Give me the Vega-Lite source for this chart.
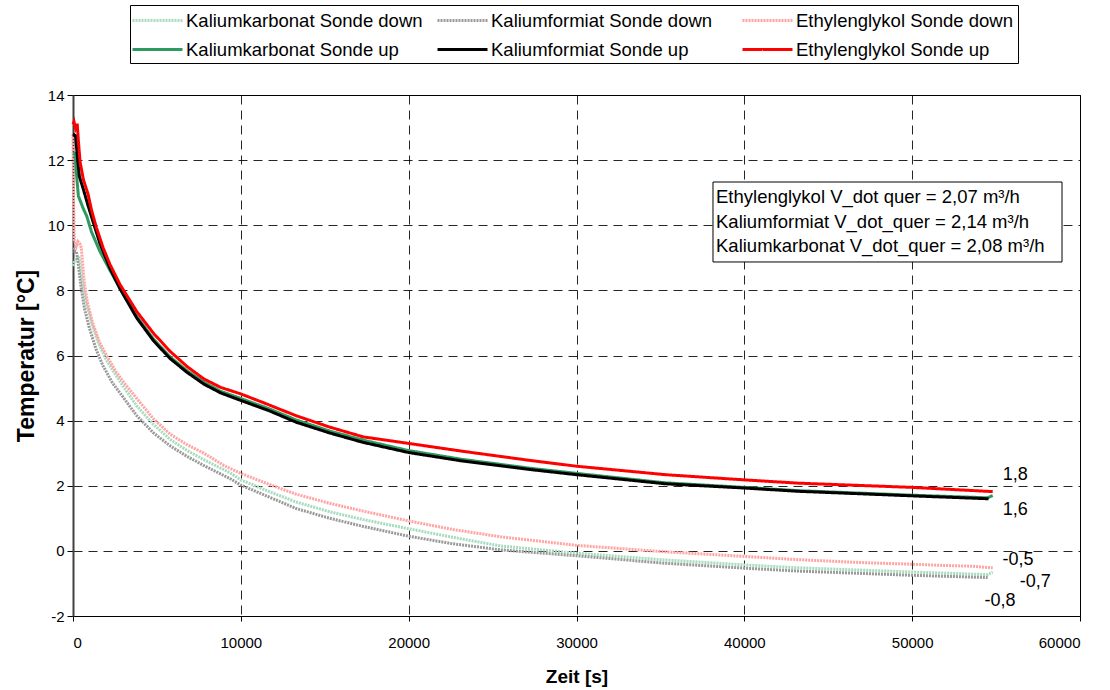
{
  "$schema": "https://vega.github.io/schema/vega-lite/v6.json",
  "autosize": {"type": "none"},
  "padding": {"left": 73, "top": 95, "right": 30, "bottom": 74},
  "width": 1007,
  "height": 521,
  "background": "white",
  "config": {
    "font": "Liberation Sans",
    "view": {"stroke": "#000000", "strokeWidth": 1},
    "axis": {
      "labelFont": "Liberation Sans",
      "labelFontSize": 15,
      "labelColor": "#000000",
      "titleFont": "Liberation Sans",
      "titleFontWeight": "bold",
      "titleColor": "#000000",
      "gridColor": "#000000",
      "gridDash": [9, 6],
      "gridWidth": 1,
      "gridOpacity": 0.85,
      "tickColor": "#000000",
      "domainColor": "#000000"
    },
    "legend": {
      "labelFont": "Liberation Sans",
      "labelFontSize": 18.5,
      "labelColor": "#000000"
    }
  },
  "datasets": {
    "curves": [
      {"s": "Kaliumkarbonat Sonde down", "t": 0, "v": 8.75},
      {"s": "Kaliumkarbonat Sonde down", "t": 100, "v": 8.9},
      {"s": "Kaliumkarbonat Sonde down", "t": 250, "v": 9.0},
      {"s": "Kaliumkarbonat Sonde down", "t": 350, "v": 9.05},
      {"s": "Kaliumkarbonat Sonde down", "t": 450, "v": 8.7},
      {"s": "Kaliumkarbonat Sonde down", "t": 600, "v": 8.1},
      {"s": "Kaliumkarbonat Sonde down", "t": 800, "v": 7.6},
      {"s": "Kaliumkarbonat Sonde down", "t": 1100, "v": 7.0},
      {"s": "Kaliumkarbonat Sonde down", "t": 1500, "v": 6.4},
      {"s": "Kaliumkarbonat Sonde down", "t": 2000, "v": 5.85},
      {"s": "Kaliumkarbonat Sonde down", "t": 2800, "v": 5.2},
      {"s": "Kaliumkarbonat Sonde down", "t": 3800, "v": 4.45},
      {"s": "Kaliumkarbonat Sonde down", "t": 4800, "v": 3.88},
      {"s": "Kaliumkarbonat Sonde down", "t": 5800, "v": 3.42},
      {"s": "Kaliumkarbonat Sonde down", "t": 6800, "v": 3.08},
      {"s": "Kaliumkarbonat Sonde down", "t": 7800, "v": 2.8},
      {"s": "Kaliumkarbonat Sonde down", "t": 9350, "v": 2.4},
      {"s": "Kaliumkarbonat Sonde down", "t": 10000, "v": 2.18},
      {"s": "Kaliumkarbonat Sonde down", "t": 11700, "v": 1.82},
      {"s": "Kaliumkarbonat Sonde down", "t": 13300, "v": 1.5},
      {"s": "Kaliumkarbonat Sonde down", "t": 15300, "v": 1.2},
      {"s": "Kaliumkarbonat Sonde down", "t": 17300, "v": 0.96},
      {"s": "Kaliumkarbonat Sonde down", "t": 20000, "v": 0.68},
      {"s": "Kaliumkarbonat Sonde down", "t": 22600, "v": 0.42},
      {"s": "Kaliumkarbonat Sonde down", "t": 25500, "v": 0.15},
      {"s": "Kaliumkarbonat Sonde down", "t": 30000, "v": -0.07},
      {"s": "Kaliumkarbonat Sonde down", "t": 35300, "v": -0.28},
      {"s": "Kaliumkarbonat Sonde down", "t": 40000, "v": -0.43},
      {"s": "Kaliumkarbonat Sonde down", "t": 43200, "v": -0.52},
      {"s": "Kaliumkarbonat Sonde down", "t": 50000, "v": -0.65},
      {"s": "Kaliumkarbonat Sonde down", "t": 54500, "v": -0.73},
      {"s": "Kaliumkarbonat Sonde down", "t": 54800, "v": -0.65},

      {"s": "Kaliumformiat Sonde down", "t": 0, "v": 9.3},
      {"s": "Kaliumformiat Sonde down", "t": 100, "v": 9.2},
      {"s": "Kaliumformiat Sonde down", "t": 200, "v": 9.2},
      {"s": "Kaliumformiat Sonde down", "t": 280, "v": 8.95},
      {"s": "Kaliumformiat Sonde down", "t": 480, "v": 8.1},
      {"s": "Kaliumformiat Sonde down", "t": 680, "v": 7.45},
      {"s": "Kaliumformiat Sonde down", "t": 970, "v": 6.85},
      {"s": "Kaliumformiat Sonde down", "t": 1370, "v": 6.2},
      {"s": "Kaliumformiat Sonde down", "t": 1770, "v": 5.7},
      {"s": "Kaliumformiat Sonde down", "t": 2360, "v": 5.15},
      {"s": "Kaliumformiat Sonde down", "t": 2800, "v": 4.85},
      {"s": "Kaliumformiat Sonde down", "t": 3800, "v": 4.15},
      {"s": "Kaliumformiat Sonde down", "t": 4800, "v": 3.62},
      {"s": "Kaliumformiat Sonde down", "t": 5800, "v": 3.22},
      {"s": "Kaliumformiat Sonde down", "t": 6800, "v": 2.9},
      {"s": "Kaliumformiat Sonde down", "t": 7800, "v": 2.62},
      {"s": "Kaliumformiat Sonde down", "t": 9350, "v": 2.22},
      {"s": "Kaliumformiat Sonde down", "t": 10000, "v": 2.02},
      {"s": "Kaliumformiat Sonde down", "t": 11700, "v": 1.65},
      {"s": "Kaliumformiat Sonde down", "t": 13300, "v": 1.3},
      {"s": "Kaliumformiat Sonde down", "t": 15300, "v": 1.0},
      {"s": "Kaliumformiat Sonde down", "t": 17300, "v": 0.75},
      {"s": "Kaliumformiat Sonde down", "t": 20000, "v": 0.45},
      {"s": "Kaliumformiat Sonde down", "t": 22600, "v": 0.22},
      {"s": "Kaliumformiat Sonde down", "t": 25500, "v": 0.03},
      {"s": "Kaliumformiat Sonde down", "t": 30000, "v": -0.15},
      {"s": "Kaliumformiat Sonde down", "t": 35300, "v": -0.38},
      {"s": "Kaliumformiat Sonde down", "t": 40000, "v": -0.53},
      {"s": "Kaliumformiat Sonde down", "t": 43200, "v": -0.62},
      {"s": "Kaliumformiat Sonde down", "t": 50000, "v": -0.75},
      {"s": "Kaliumformiat Sonde down", "t": 54500, "v": -0.82},

      {"s": "Ethylenglykol Sonde down", "t": 0, "v": 12.8},
      {"s": "Ethylenglykol Sonde down", "t": 40, "v": 10.5},
      {"s": "Ethylenglykol Sonde down", "t": 80, "v": 9.55},
      {"s": "Ethylenglykol Sonde down", "t": 200, "v": 9.35},
      {"s": "Ethylenglykol Sonde down", "t": 300, "v": 9.5},
      {"s": "Ethylenglykol Sonde down", "t": 400, "v": 9.45},
      {"s": "Ethylenglykol Sonde down", "t": 500, "v": 9.3},
      {"s": "Ethylenglykol Sonde down", "t": 560, "v": 8.9},
      {"s": "Ethylenglykol Sonde down", "t": 680, "v": 8.2},
      {"s": "Ethylenglykol Sonde down", "t": 870, "v": 7.6},
      {"s": "Ethylenglykol Sonde down", "t": 1170, "v": 7.0},
      {"s": "Ethylenglykol Sonde down", "t": 1570, "v": 6.42},
      {"s": "Ethylenglykol Sonde down", "t": 2000, "v": 6.0},
      {"s": "Ethylenglykol Sonde down", "t": 2560, "v": 5.5},
      {"s": "Ethylenglykol Sonde down", "t": 3060, "v": 5.15},
      {"s": "Ethylenglykol Sonde down", "t": 3800, "v": 4.68},
      {"s": "Ethylenglykol Sonde down", "t": 4800, "v": 4.05},
      {"s": "Ethylenglykol Sonde down", "t": 5800, "v": 3.58},
      {"s": "Ethylenglykol Sonde down", "t": 6800, "v": 3.26},
      {"s": "Ethylenglykol Sonde down", "t": 7800, "v": 3.0},
      {"s": "Ethylenglykol Sonde down", "t": 9000, "v": 2.62},
      {"s": "Ethylenglykol Sonde down", "t": 10000, "v": 2.38},
      {"s": "Ethylenglykol Sonde down", "t": 11700, "v": 2.04},
      {"s": "Ethylenglykol Sonde down", "t": 13300, "v": 1.74},
      {"s": "Ethylenglykol Sonde down", "t": 15300, "v": 1.46},
      {"s": "Ethylenglykol Sonde down", "t": 17300, "v": 1.22},
      {"s": "Ethylenglykol Sonde down", "t": 20000, "v": 0.92},
      {"s": "Ethylenglykol Sonde down", "t": 22600, "v": 0.66},
      {"s": "Ethylenglykol Sonde down", "t": 25500, "v": 0.43},
      {"s": "Ethylenglykol Sonde down", "t": 30000, "v": 0.17},
      {"s": "Ethylenglykol Sonde down", "t": 35300, "v": -0.03},
      {"s": "Ethylenglykol Sonde down", "t": 40000, "v": -0.17},
      {"s": "Ethylenglykol Sonde down", "t": 43200, "v": -0.27},
      {"s": "Ethylenglykol Sonde down", "t": 47000, "v": -0.36},
      {"s": "Ethylenglykol Sonde down", "t": 50000, "v": -0.41},
      {"s": "Ethylenglykol Sonde down", "t": 52000, "v": -0.45},
      {"s": "Ethylenglykol Sonde down", "t": 53500, "v": -0.47},
      {"s": "Ethylenglykol Sonde down", "t": 54800, "v": -0.52},

      {"s": "Kaliumkarbonat Sonde up", "t": 0, "v": 12.2},
      {"s": "Kaliumkarbonat Sonde up", "t": 120, "v": 12.2},
      {"s": "Kaliumkarbonat Sonde up", "t": 220, "v": 11.5},
      {"s": "Kaliumkarbonat Sonde up", "t": 320, "v": 10.9},
      {"s": "Kaliumkarbonat Sonde up", "t": 620, "v": 10.5},
      {"s": "Kaliumkarbonat Sonde up", "t": 820, "v": 10.28},
      {"s": "Kaliumkarbonat Sonde up", "t": 1100, "v": 9.8},
      {"s": "Kaliumkarbonat Sonde up", "t": 1600, "v": 9.2},
      {"s": "Kaliumkarbonat Sonde up", "t": 2200, "v": 8.62},
      {"s": "Kaliumkarbonat Sonde up", "t": 2800, "v": 8.06},
      {"s": "Kaliumkarbonat Sonde up", "t": 3800, "v": 7.2},
      {"s": "Kaliumkarbonat Sonde up", "t": 4800, "v": 6.5},
      {"s": "Kaliumkarbonat Sonde up", "t": 5800, "v": 5.95},
      {"s": "Kaliumkarbonat Sonde up", "t": 6800, "v": 5.53},
      {"s": "Kaliumkarbonat Sonde up", "t": 7800, "v": 5.18},
      {"s": "Kaliumkarbonat Sonde up", "t": 8800, "v": 4.9},
      {"s": "Kaliumkarbonat Sonde up", "t": 10000, "v": 4.68},
      {"s": "Kaliumkarbonat Sonde up", "t": 11700, "v": 4.36},
      {"s": "Kaliumkarbonat Sonde up", "t": 13300, "v": 4.02},
      {"s": "Kaliumkarbonat Sonde up", "t": 15300, "v": 3.68},
      {"s": "Kaliumkarbonat Sonde up", "t": 17300, "v": 3.4},
      {"s": "Kaliumkarbonat Sonde up", "t": 20000, "v": 3.08},
      {"s": "Kaliumkarbonat Sonde up", "t": 23200, "v": 2.81},
      {"s": "Kaliumkarbonat Sonde up", "t": 27200, "v": 2.54},
      {"s": "Kaliumkarbonat Sonde up", "t": 30000, "v": 2.38},
      {"s": "Kaliumkarbonat Sonde up", "t": 35300, "v": 2.09},
      {"s": "Kaliumkarbonat Sonde up", "t": 40000, "v": 1.95},
      {"s": "Kaliumkarbonat Sonde up", "t": 43200, "v": 1.85},
      {"s": "Kaliumkarbonat Sonde up", "t": 50000, "v": 1.71},
      {"s": "Kaliumkarbonat Sonde up", "t": 54500, "v": 1.63},
      {"s": "Kaliumkarbonat Sonde up", "t": 54800, "v": 1.7},

      {"s": "Kaliumformiat Sonde up", "t": 0, "v": 12.8},
      {"s": "Kaliumformiat Sonde up", "t": 150, "v": 12.75},
      {"s": "Kaliumformiat Sonde up", "t": 260, "v": 12.1},
      {"s": "Kaliumformiat Sonde up", "t": 380, "v": 11.5},
      {"s": "Kaliumformiat Sonde up", "t": 620, "v": 11.1},
      {"s": "Kaliumformiat Sonde up", "t": 900, "v": 10.6},
      {"s": "Kaliumformiat Sonde up", "t": 1200, "v": 10.1},
      {"s": "Kaliumformiat Sonde up", "t": 1600, "v": 9.45},
      {"s": "Kaliumformiat Sonde up", "t": 2200, "v": 8.68},
      {"s": "Kaliumformiat Sonde up", "t": 2800, "v": 8.05},
      {"s": "Kaliumformiat Sonde up", "t": 3800, "v": 7.15},
      {"s": "Kaliumformiat Sonde up", "t": 4800, "v": 6.45},
      {"s": "Kaliumformiat Sonde up", "t": 5800, "v": 5.9},
      {"s": "Kaliumformiat Sonde up", "t": 6800, "v": 5.48},
      {"s": "Kaliumformiat Sonde up", "t": 7800, "v": 5.12},
      {"s": "Kaliumformiat Sonde up", "t": 8800, "v": 4.85},
      {"s": "Kaliumformiat Sonde up", "t": 10000, "v": 4.62},
      {"s": "Kaliumformiat Sonde up", "t": 11700, "v": 4.3},
      {"s": "Kaliumformiat Sonde up", "t": 13300, "v": 3.95},
      {"s": "Kaliumformiat Sonde up", "t": 15300, "v": 3.62},
      {"s": "Kaliumformiat Sonde up", "t": 17300, "v": 3.33},
      {"s": "Kaliumformiat Sonde up", "t": 20000, "v": 3.02},
      {"s": "Kaliumformiat Sonde up", "t": 23200, "v": 2.76},
      {"s": "Kaliumformiat Sonde up", "t": 27200, "v": 2.5},
      {"s": "Kaliumformiat Sonde up", "t": 30000, "v": 2.34},
      {"s": "Kaliumformiat Sonde up", "t": 35300, "v": 2.06},
      {"s": "Kaliumformiat Sonde up", "t": 40000, "v": 1.93},
      {"s": "Kaliumformiat Sonde up", "t": 43200, "v": 1.83},
      {"s": "Kaliumformiat Sonde up", "t": 50000, "v": 1.69},
      {"s": "Kaliumformiat Sonde up", "t": 54550, "v": 1.6},

      {"s": "Ethylenglykol Sonde up", "t": 0, "v": 13.1},
      {"s": "Ethylenglykol Sonde up", "t": 60, "v": 13.18},
      {"s": "Ethylenglykol Sonde up", "t": 150, "v": 12.98},
      {"s": "Ethylenglykol Sonde up", "t": 250, "v": 13.12},
      {"s": "Ethylenglykol Sonde up", "t": 320, "v": 12.6},
      {"s": "Ethylenglykol Sonde up", "t": 420, "v": 11.95},
      {"s": "Ethylenglykol Sonde up", "t": 620, "v": 11.4},
      {"s": "Ethylenglykol Sonde up", "t": 900, "v": 10.95},
      {"s": "Ethylenglykol Sonde up", "t": 1110, "v": 10.45},
      {"s": "Ethylenglykol Sonde up", "t": 1400, "v": 9.92},
      {"s": "Ethylenglykol Sonde up", "t": 1800, "v": 9.3},
      {"s": "Ethylenglykol Sonde up", "t": 2200, "v": 8.8},
      {"s": "Ethylenglykol Sonde up", "t": 2800, "v": 8.18},
      {"s": "Ethylenglykol Sonde up", "t": 3800, "v": 7.35},
      {"s": "Ethylenglykol Sonde up", "t": 4800, "v": 6.68},
      {"s": "Ethylenglykol Sonde up", "t": 5800, "v": 6.12},
      {"s": "Ethylenglykol Sonde up", "t": 6800, "v": 5.66},
      {"s": "Ethylenglykol Sonde up", "t": 7800, "v": 5.28},
      {"s": "Ethylenglykol Sonde up", "t": 8800, "v": 5.02},
      {"s": "Ethylenglykol Sonde up", "t": 10000, "v": 4.82},
      {"s": "Ethylenglykol Sonde up", "t": 11300, "v": 4.56},
      {"s": "Ethylenglykol Sonde up", "t": 13300, "v": 4.15},
      {"s": "Ethylenglykol Sonde up", "t": 15300, "v": 3.8},
      {"s": "Ethylenglykol Sonde up", "t": 17300, "v": 3.5},
      {"s": "Ethylenglykol Sonde up", "t": 20000, "v": 3.3},
      {"s": "Ethylenglykol Sonde up", "t": 23200, "v": 3.06},
      {"s": "Ethylenglykol Sonde up", "t": 27200, "v": 2.78},
      {"s": "Ethylenglykol Sonde up", "t": 30000, "v": 2.6},
      {"s": "Ethylenglykol Sonde up", "t": 35300, "v": 2.34},
      {"s": "Ethylenglykol Sonde up", "t": 40000, "v": 2.18},
      {"s": "Ethylenglykol Sonde up", "t": 43200, "v": 2.08},
      {"s": "Ethylenglykol Sonde up", "t": 50000, "v": 1.95},
      {"s": "Ethylenglykol Sonde up", "t": 54800, "v": 1.82}
    ],
    "box": [
      {"x": 38133, "x2": 58928, "y": 11.328, "y2": 8.872}
    ],
    "boxText": [
      {"t": 38312, "v": 10.868, "label": "Ethylenglykol V_dot quer = 2,07 m³/h"},
      {"t": 38312, "v": 10.1, "label": "Kaliumformiat V_dot_quer = 2,14 m³/h"},
      {"t": 38312, "v": 9.363, "label": "Kaliumkarbonat V_dot_quer = 2,08 m³/h"}
    ],
    "endLabels": [
      {"t": 56140, "v": 2.33, "label": "1,8"},
      {"t": 56140, "v": 1.26, "label": "1,6"},
      {"t": 56300, "v": -0.28, "label": "-0,5"},
      {"t": 57330, "v": -0.95, "label": "-0,7"},
      {"t": 55240, "v": -1.54, "label": "-0,8"}
    ]
  },
  "layer": [
    {
      "data": {"name": "curves"},
      "mark": {"type": "line", "strokeWidth": 3, "interpolate": "linear"},
      "encoding": {
        "x": {
          "field": "t", "type": "quantitative",
          "scale": {"domain": [0, 60000], "nice": false},
          "axis": {
            "title": "Zeit [s]",
            "titleFontSize": 19,
            "values": [0, 10000, 20000, 30000, 40000, 50000, 60000],
            "format": "d",
            "grid": true,
            "tickSize": 5,
            "labelPadding": 14,
            "titlePadding": 17,
            "domainWidth": 1
          }
        },
        "y": {
          "field": "v", "type": "quantitative",
          "scale": {"domain": [-2, 14], "nice": false},
          "axis": {
            "title": "Temperatur [°C]",
            "titleFontSize": 23,
            "values": [-2, 0, 2, 4, 6, 8, 10, 12, 14],
            "labelExpr": "'' + datum.value",
            "grid": true,
            "tickSize": 6,
            "labelPadding": 3,
            "titlePadding": 9,
            "domainWidth": 2,
            "domainColor": "#404040"
          }
        },
        "color": {
          "field": "s", "type": "nominal",
          "scale": {
            "domain": ["Kaliumkarbonat Sonde down", "Kaliumformiat Sonde down", "Ethylenglykol Sonde down", "Kaliumkarbonat Sonde up", "Kaliumformiat Sonde up", "Ethylenglykol Sonde up"],
            "range": ["#a6dcbd", "#9a9a9a", "#ffa3a3", "#2e9960", "#000000", "#ff0000"]
          },
          "legend": {
            "title": null,
            "orient": "none",
            "direction": "horizontal",
            "legendX": 57,
            "legendY": -90,
            "columns": 3,
            "gridAlign": "all",
            "symbolType": "M-2.5,0H2.5",
            "symbolSize": 400,
            "symbolStrokeWidth": 3,
            "symbolOffset": 12,
            "labelOffset": 17,
            "columnPadding": 8,
            "rowPadding": 8,
            "padding": 4,
            "fillColor": "white",
            "strokeColor": "#000000",
            "labelLimit": 400
          }
        },
        "strokeDash": {
          "field": "s", "type": "nominal",
          "scale": {
            "domain": ["Kaliumkarbonat Sonde down", "Kaliumformiat Sonde down", "Ethylenglykol Sonde down", "Kaliumkarbonat Sonde up", "Kaliumformiat Sonde up", "Ethylenglykol Sonde up"],
            "range": [[2, 1], [2, 1], [2, 1], [1, 0], [1, 0], [1, 0]]
          },
          "legend": {
            "title": null,
            "orient": "none",
            "direction": "horizontal",
            "legendX": 57,
            "legendY": -90,
            "columns": 3,
            "gridAlign": "all",
            "symbolType": "M-2.5,0H2.5",
            "symbolSize": 400,
            "symbolStrokeWidth": 3,
            "symbolOffset": 12,
            "labelOffset": 17,
            "columnPadding": 8,
            "rowPadding": 8,
            "padding": 4,
            "fillColor": "white",
            "strokeColor": "#000000",
            "labelLimit": 400
          }
        }
      }
    },
    {
      "data": {"name": "box"},
      "mark": {"type": "rect", "fill": "white", "stroke": "#000000", "strokeWidth": 1},
      "encoding": {
        "x": {"field": "x", "type": "quantitative"},
        "x2": {"field": "x2"},
        "y": {"field": "y", "type": "quantitative"},
        "y2": {"field": "y2"}
      }
    },
    {
      "data": {"name": "boxText"},
      "mark": {"type": "text", "align": "left", "baseline": "middle", "fontSize": 18.5, "font": "Liberation Sans", "color": "#000000"},
      "encoding": {
        "x": {"field": "t", "type": "quantitative"},
        "y": {"field": "v", "type": "quantitative"},
        "text": {"field": "label"}
      }
    },
    {
      "data": {"name": "endLabels"},
      "mark": {"type": "text", "align": "center", "baseline": "middle", "fontSize": 18, "font": "Liberation Sans", "color": "#000000"},
      "encoding": {
        "x": {"field": "t", "type": "quantitative"},
        "y": {"field": "v", "type": "quantitative"},
        "text": {"field": "label"}
      }
    }
  ]
}
